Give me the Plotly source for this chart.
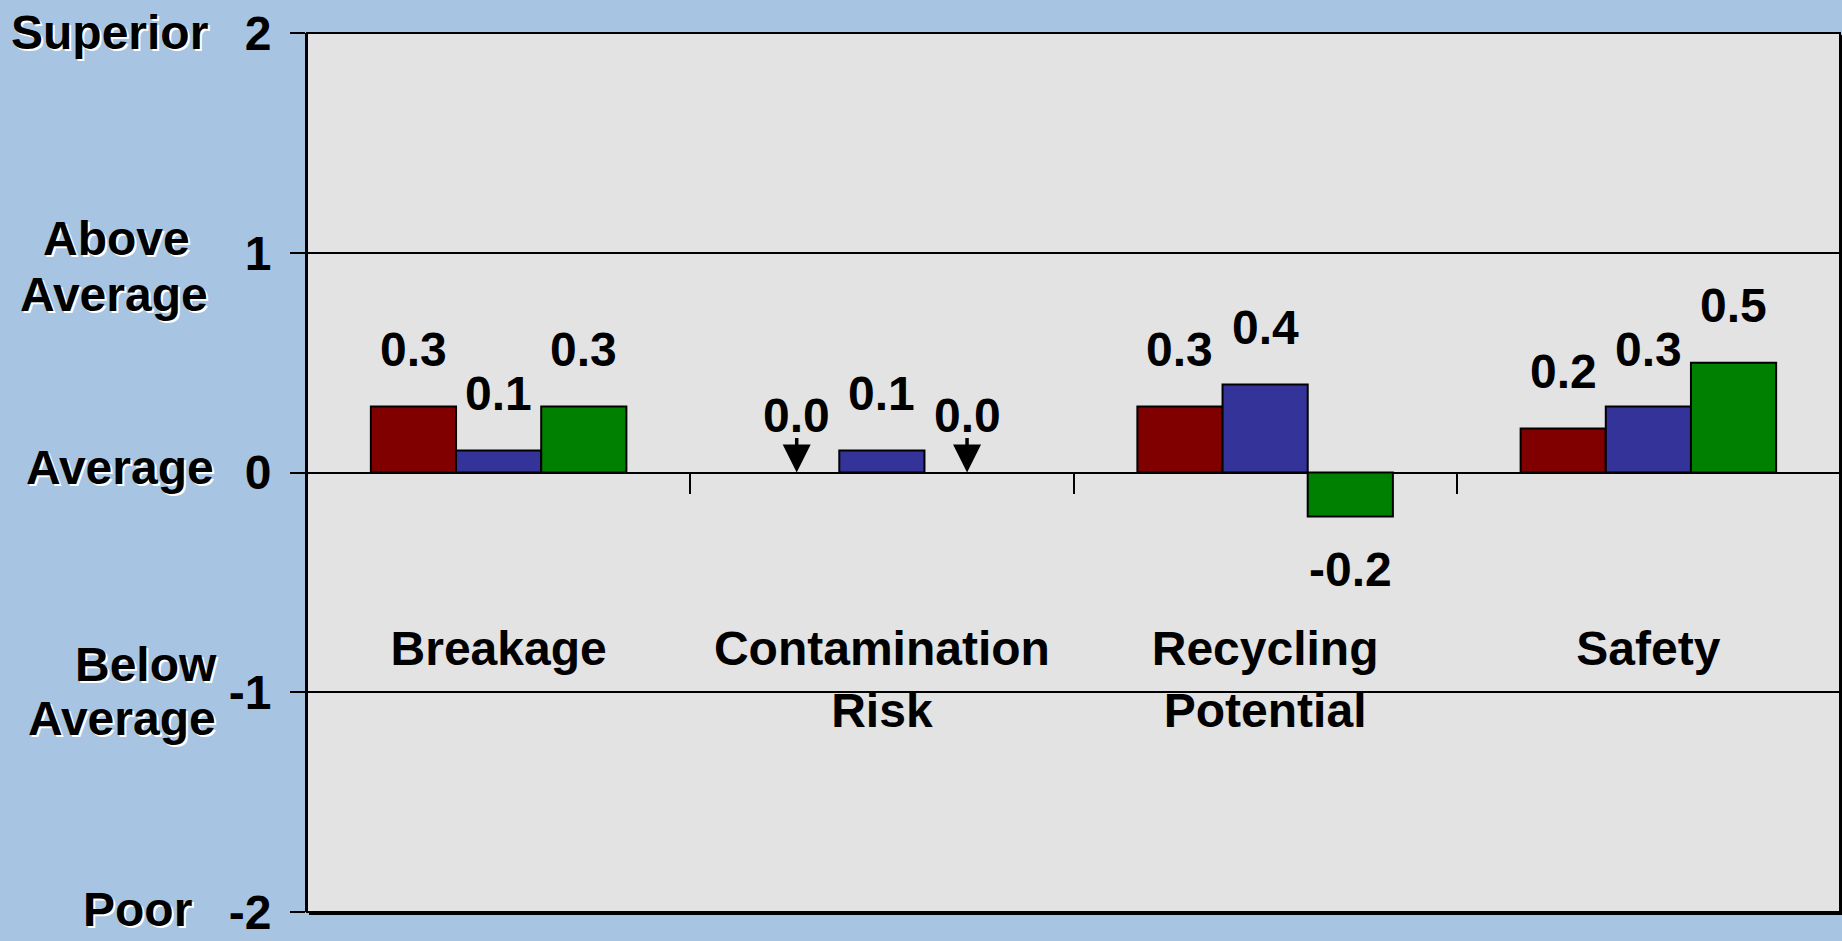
import plotly.graph_objects as go

# ---- data ----
categories = ["Breakage", "Contamination<br>Risk", "Recycling<br>Potential", "Safety"]
series_names = ["Series 1", "Series 2", "Series 3"]
series_1 = [0.3, 0.0, 0.3, 0.2]
series_2 = [0.1, 0.1, 0.4, 0.3]
series_3 = [0.3, 0.0, -0.2, 0.5]
series_values = [series_1, series_2, series_3]
series_colors = ["#800000", "#333399", "#008000"]
y_tick_values = [-2, -1, 0, 1, 2]
y_tick_text = ["-2", "-1", "0", "1", "2"]
rating_lines = ["Superior", "Above", "Average", "Average", "Below", "Average", "Poor"]

# ---- layout geometry (pixels) ----
W, H = 1842, 941
L, R, T, B = 307, 2, 33, 24
PW, PH = W - L - R, H - T - B
BARGAP = 1 / 3
NS = len(series_values)
bar_w = (1 - BARGAP) / NS

def px_x(px):
    return (px - L) / PW

def px_y(py):
    return 1 - (py - T) / PH

FONT = "Liberation Sans, Arial, sans-serif"

fig = go.Figure()
for name, vals, col in zip(series_names, series_values, series_colors):
    fig.add_trace(go.Bar(
        x=categories, y=vals, name=name,
        marker=dict(color=col, line=dict(color="black",
                                         width=[0 if v == 0 else 2 for v in vals])),
        showlegend=False,
    ))

annotations = []
for s, vals in enumerate(series_values):
    off = (s - (NS - 1) / 2) * bar_w
    for i, v in enumerate(vals):
        xpos = i + off
        annotations.append(dict(
            x=xpos, y=v, xref="x", yref="y", text=f"{v:.1f}", showarrow=False,
            xanchor="center", yanchor="middle", yshift=(-53 if v < 0 else 57),
            font=dict(family=FONT, size=48, color="black", weight="bold"),
        ))
        if v == 0:
            annotations.append(dict(
                x=xpos, y=0, xref="x", yref="y", text="", showarrow=True,
                ax=0, ay=-36, arrowhead=2, arrowsize=1.6, arrowwidth=3.5,
                arrowcolor="black", standoff=0,
            ))

# rating labels beside the value axis (pixel centres)
rating_pos = [(109, 32), (116, 240), (114, 296), (120, 470), (146, 668), (122, 722), (137, 914)]
for txt, (cx, cy) in zip(rating_lines, rating_pos):
    annotations.append(dict(
        x=px_x(cx), y=px_y(cy), xref="paper", yref="paper", text=txt,
        showarrow=False, xanchor="center", yanchor="middle",
        font=dict(family=FONT, size=48, color="black", weight="bold",
                  shadow="2px 2px 0px #ffffff"),
    ))

shapes = [
    dict(type="rect", xref="paper", yref="paper", x0=0, y0=0, x1=1, y1=1,
         line=dict(color="black", width=2), layer="above"),
    dict(type="line", xref="paper", yref="paper", x0=1 + 1.5 / PW, x1=1 + 1.5 / PW,
         y0=-2 / PH, y1=1 - 2 / PH, line=dict(color="black", width=3), layer="above"),
    dict(type="line", xref="paper", yref="paper", x0=2 / PW, x1=1 + 3 / PW,
         y0=-1.5 / PH, y1=-1.5 / PH, line=dict(color="black", width=3), layer="above"),
]

fig.update_layout(
    width=W, height=H,
    margin=dict(l=L, r=R, t=T, b=B, pad=0),
    paper_bgcolor="#a7c5e3",
    plot_bgcolor="#e3e3e3",
    barmode="group", bargap=BARGAP, bargroupgap=0,
    annotations=annotations, shapes=shapes,
    xaxis=dict(
        type="category", anchor="free", position=0.5,
        showline=False, showgrid=False, zeroline=False,
        ticks="outside", tickson="boundaries", ticklen=20, tickwidth=2, tickcolor="black",
        tickangle=0, ticklabelstandoff=143,
        tickfont=dict(family=FONT, size=48, color="black", weight="bold"),
    ),
    yaxis=dict(
        range=[-2, 2], tickvals=y_tick_values, ticktext=y_tick_text,
        showline=True, linecolor="black", linewidth=2,
        showgrid=True, gridcolor="black", gridwidth=2,
        zeroline=True, zerolinecolor="black", zerolinewidth=2,
        ticks="outside", ticklen=15, tickwidth=2, tickcolor="black",
        ticklabelstandoff=9, ticklabeloverflow="allow",
        tickfont=dict(family=FONT, size=48, color="black", weight="bold"),
    ),
)

fig.write_html(
    "out.html",
    config={"displayModeBar": False},
    post_script="document.body.style.margin='0';document.body.style.overflow='hidden';",
)
